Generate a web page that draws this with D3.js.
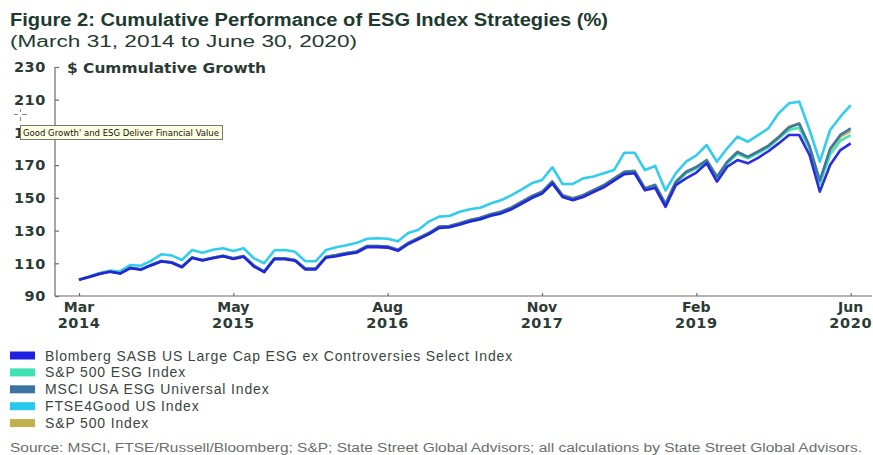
<!DOCTYPE html>
<html>
<head>
<meta charset="utf-8">
<script src="https://cdnjs.cloudflare.com/ajax/libs/d3/7.8.5/d3.min.js"></script>
<style>
  body { margin: 0; background: #fff; }
  svg { display: block; }
</style>
</head>
<body>
<svg id="chart" width="873" height="455"></svg>
<script>
// tick labels on the time axis (month index 0 = Mar 2014, 75 = Jun 2020)
const tickIndex = [0, 15, 30, 45, 60, 75];
const tickMonth = ["Mar", "May", "Aug", "Nov", "Feb", "Jun"];
const tickYear = ["2014", "2015", "2016", "2017", "2019", "2020"];
const yTicks = [90, 110, 130, 150, 170, 190, 210, 230];

const seriesNames = [
  "Blomberg SASB US Large Cap ESG ex Controversies Select Index",
  "S&P 500 ESG Index",
  "MSCI USA ESG Universal Index",
  "FTSE4Good US Index",
  "S&P 500 Index"
];
const seriesColors = ["#2020e0", "#3fe2b2", "#3a72a2", "#27c9ee", "#c2b04c"];

// cumulative growth, monthly values
const bloomberg = [100,101.6,103.5,104.8,103.7,107,106,108.7,111.1,110.3,
  107.6,113.3,111.7,113.1,114.3,112.6,114,108,104.6,112.6,
  112.5,111.5,106.2,106.2,113.4,114.3,115.6,116.6,119.9,119.9,
  119.6,117.6,121.8,124.8,127.8,131.6,132,133.7,135.6,136.9,
  139,140.5,143,146.4,149.9,152.6,158.8,150.5,148.5,150.5,
  153.5,156.4,160.5,164.5,165,154.6,156,144.5,157.8,161.9,
  165.5,171.1,159.9,169,173.1,171.1,174.5,178.5,183.3,188.4,
  188.4,176.2,153.8,170.1,179.2,183.3];
const spEsg = [100,101.8,103.7,105,103.9,107.2,106.2,108.9,111.3,110.5,
  107.8,113.5,111.9,113.3,114.5,112.9,114.3,108.3,104.8,112.8,
  112.8,111.8,106.5,106.5,113.7,114.7,115.9,116.8,120.1,120.1,
  119.8,117.8,121.9,124.9,127.8,131.6,132,133.6,135.6,136.8,
  139,140.4,142.9,146.3,149.8,152.6,159,150.6,148.9,150.9,
  154,157,161,165.2,165.8,155.3,157.3,145.8,159,165,
  168,172.3,162.3,171,177,174.2,177.3,180.8,186.3,191.5,
  192.8,179.8,158.4,176.5,185,188.4];
const msci = [100,101.8,103.7,105,103.9,107.3,106.3,109,111.4,110.6,
  107.9,113.6,112,113.4,114.6,113,114.4,108.6,105.1,113,
  113,112,106.8,106.8,114,115,116.2,117.2,120.6,120.6,
  120.3,118.3,122.5,125.5,128.5,132.4,132.8,134.5,136.5,137.8,
  140,141.5,144,147.5,151,153.7,160,151.5,149.6,151.6,
  154.7,157.7,161.8,165.9,166.4,155.8,157.8,146.3,159.7,165.8,
  168.8,173,162.8,172,178,175,178.3,181.8,187,193,
  195.3,181.5,160.5,180,188.5,192.5];
const ftse = [100,102,104,105.5,105,109,108.5,111.5,115.5,114.8,
  112,118.1,116.5,118.3,119.2,117.5,119.2,113,110,118,
  118.1,117,111.2,111.2,118.1,119.8,121,122.5,125,125.3,
  125,123.5,128.5,130.5,135.5,138.5,138.9,141.5,143,144,
  146.5,148.5,151.5,155,158.9,160.9,168.7,158.5,158.5,161.9,
  163,165,167,177.6,177.6,167,169.5,154.5,165,172.1,
  176,182.3,172.1,180.3,187.4,184.3,188.4,192.5,201.7,207.8,
  208.8,191.5,172.1,191.5,199.6,206.7];
const sp500 = [100,101.8,103.7,105,103.9,107.3,106.3,109,111.4,110.6,
  107.9,113.6,112,113.4,114.6,113,114.4,108.5,105,113,
  113,112,106.8,106.8,114,115,116.2,117.2,120.6,120.6,
  120.3,118.3,122.5,125.5,128.5,132.4,132.8,134.5,136.5,137.8,
  140,141.5,144,147.5,151,153.7,160,151.7,149.7,151.7,
  154.8,157.8,161.9,166,166.5,156,158,146.5,159.9,166,
  169,173.1,163,172.1,178.2,175.1,178.5,182,187.4,193.5,
  195.6,181.3,159.9,179.2,187.4,191];

const series = [bloomberg, spEsg, msci, ftse, sp500];
// drawing order: FTSE first, Bloomberg on top
const drawOrder = [3, 4, 1, 2, 0];

const svg = d3.select("#chart");
const ink = "#2c3a34";

// title block
svg.append("text")
  .attr("x", 10).attr("y", 26)
  .attr("font-family", "Liberation Sans, Arial, sans-serif")
  .attr("font-weight", "bold").attr("font-size", 17.5)
  .attr("fill", "#1e3a2f")
  .attr("textLength", 598).attr("lengthAdjust", "spacingAndGlyphs")
  .text("Figure 2: Cumulative Performance of ESG Index Strategies (%)");

svg.append("text")
  .attr("x", 10).attr("y", 46.5)
  .attr("font-family", "Liberation Sans, Arial, sans-serif")
  .attr("font-size", 16)
  .attr("fill", "#24392f")
  .attr("textLength", 347).attr("lengthAdjust", "spacingAndGlyphs")
  .text("(March 31, 2014 to June 30, 2020)");

const x = d3.scaleLinear().domain([0, 75]).range([79, 850.7]);
const y = d3.scaleLinear().domain([90, 230]).range([296, 67]);

// y axis
const yAxis = svg.append("g")
  .attr("transform", "translate(55,0)")
  .call(d3.axisRight(y).tickValues(yTicks).tickSize(4).tickFormat(""));
yAxis.select(".domain").attr("stroke", "#6b6b6b").attr("stroke-width", 1.2)
  .attr("d", `M0,${y(230)}V${y(90)}`);
yAxis.selectAll(".tick line").attr("stroke", "#6b6b6b").attr("stroke-width", 1.2);

svg.append("g").selectAll("text")
  .data(yTicks).enter().append("text")
  .attr("x", 46).attr("y", d => y(d))
  .attr("dy", "0.36em")
  .attr("text-anchor", "end")
  .attr("font-family", "DejaVu Sans, sans-serif")
  .attr("font-weight", "bold").attr("font-size", 14.5)
  .attr("letter-spacing", 0.6)
  .attr("fill", ink)
  .text(d => d);

svg.append("text")
  .attr("x", 67).attr("y", 68).attr("dy", "0.36em")
  .attr("font-family", "DejaVu Sans, sans-serif")
  .attr("font-weight", "bold").attr("font-size", 13.5)
  .attr("fill", ink)
  .attr("textLength", 199).attr("lengthAdjust", "spacingAndGlyphs")
  .text("$ Cummulative Growth");

// x axis
const xAxis = svg.append("g")
  .attr("transform", `translate(0,${y(90)})`)
  .call(d3.axisTop(x).tickValues(tickIndex).tickSize(3).tickFormat(""));
xAxis.select(".domain").attr("stroke", "#6b6b6b").attr("stroke-width", 1.2)
  .attr("d", `M55,0H872`);
xAxis.selectAll(".tick line").attr("stroke", "#6b6b6b").attr("stroke-width", 1.2);

const xl = svg.append("g").selectAll("g")
  .data(tickIndex).enter().append("g")
  .attr("transform", d => `translate(${x(d)},0)`);
xl.append("text")
  .attr("y", 307).attr("dy", "0.36em")
  .attr("text-anchor", "middle")
  .attr("font-family", "DejaVu Sans, sans-serif")
  .attr("font-weight", "bold").attr("font-size", 14)
  .attr("fill", ink)
  .text((d, i) => tickMonth[i]);
xl.append("text")
  .attr("y", 322.5).attr("dy", "0.36em")
  .attr("text-anchor", "middle")
  .attr("font-family", "DejaVu Sans, sans-serif")
  .attr("font-weight", "bold").attr("font-size", 14.5)
  .attr("letter-spacing", 0.6)
  .attr("fill", ink)
  .text((d, i) => tickYear[i]);

// lines
const line = d3.line()
  .x((d, i) => x(i))
  .y(d => y(d));

svg.append("g").selectAll("path")
  .data(drawOrder).enter().append("path")
  .attr("d", k => line(series[k]))
  .attr("fill", "none")
  .attr("stroke", k => seriesColors[k])
  .attr("stroke-width", 2.6)
  .attr("stroke-linejoin", "round")
  .attr("stroke-opacity", 0.95);

// legend
const legend = svg.append("g").selectAll("g")
  .data(seriesNames).enter().append("g")
  .attr("transform", (d, i) => `translate(10,${355.5 + i * 16.9})`);
legend.append("rect")
  .attr("x", 0).attr("y", -4).attr("width", 25).attr("height", 8)
  .attr("fill", (d, i) => seriesColors[i]);
legend.append("text")
  .attr("x", 35).attr("dy", "0.36em")
  .attr("font-family", "Liberation Sans, Arial, sans-serif")
  .attr("font-size", 14)
  .attr("letter-spacing", 0.85)
  .attr("fill", "#3b4640")
  .text(d => d);

svg.append("text")
  .attr("x", 10).attr("y", 452)
  .attr("font-family", "Liberation Sans, Arial, sans-serif")
  .attr("font-size", 12)
  .attr("fill", "#6b6f6c")
  .attr("textLength", 852).attr("lengthAdjust", "spacingAndGlyphs")
  .text("Source: MSCI, FTSE/Russell/Bloomberg; S&P; State Street Global Advisors; all calculations by State Street Global Advisors.");

// tooltip left over in the screenshot
const tip = svg.append("g");
tip.append("rect")
  .attr("x", 20.5).attr("y", 125.5).attr("width", 202).attr("height", 14)
  .attr("fill", "#ffffe1").attr("stroke", "#767676");
tip.append("text")
  .attr("x", 23).attr("y", 136)
  .attr("font-family", "DejaVu Sans, sans-serif")
  .attr("font-size", 8.5)
  .attr("fill", "#111")
  .attr("textLength", 196).attr("lengthAdjust", "spacingAndGlyphs")
  .text("Good Growth' and ESG Deliver Financial Value");
const cur = svg.append("g").attr("stroke", "#888").attr("stroke-width", 1);
cur.append("path").attr("d", "M14,114.5H18M22,114.5H27M20.5,109V112M20.5,117V121");
</script>
</body>
</html>
